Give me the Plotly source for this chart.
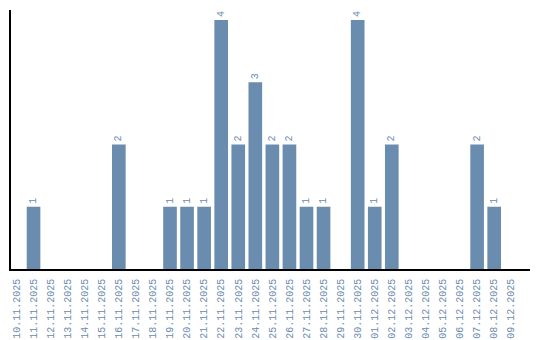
import plotly.graph_objects as go

dates = ["10.11.2025", "11.11.2025", "12.11.2025", "13.11.2025", "14.11.2025",
         "15.11.2025", "16.11.2025", "17.11.2025", "18.11.2025", "19.11.2025",
         "20.11.2025", "21.11.2025", "22.11.2025", "23.11.2025", "24.11.2025",
         "25.11.2025", "26.11.2025", "27.11.2025", "28.11.2025", "29.11.2025",
         "30.11.2025", "01.12.2025", "02.12.2025", "03.12.2025", "04.12.2025",
         "05.12.2025", "06.12.2025", "07.12.2025", "08.12.2025", "09.12.2025"]
counts = [0, 1, 0, 0, 0, 0, 2, 0, 0, 1,
          1, 1, 4, 2, 3, 2, 2, 1, 1, 0,
          4, 1, 2, 0, 0, 0, 0, 2, 1, 0]

color = "#6a8caf"
labels = [str(v) if v > 0 else "" for v in counts]
font_family = "Liberation Mono"

fig = go.Figure(go.Bar(
    x=dates, y=counts, marker_color=color, marker_line_width=0,
    text=labels, textposition="outside", textangle=-90,
    textfont=dict(family=font_family, size=10, color=color),
    cliponaxis=False, width=0.8,
))

fig.update_layout(
    width=540, height=340, margin=dict(l=11, r=10, t=10, b=71),
    paper_bgcolor="white", plot_bgcolor="white", showlegend=False,
    xaxis=dict(type="category", range=[-0.32, 30.1], showgrid=False,
               showline=True, linecolor="black", linewidth=1.5,
               ticks="", tickangle=-90, automargin=False, ticklabelstandoff=4,
               tickfont=dict(family=font_family, size=10, color=color)),
    yaxis=dict(range=[0, 4.16], showgrid=False, showticklabels=False,
               showline=True, linecolor="black", linewidth=1.5, ticks="",
               zeroline=False, automargin=False),
    uniformtext=dict(mode=False),
)

fig.write_html("out.html")
